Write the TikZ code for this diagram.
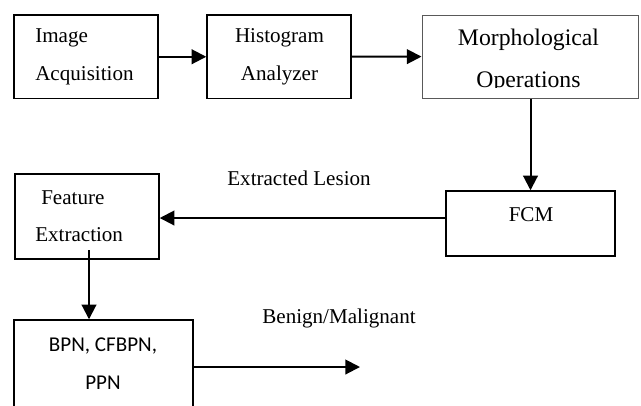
\documentclass[tikz,border=0pt]{standalone}
\usepackage{fontspec}
\setmainfont{Liberation Serif}
\newfontfamily\calibrifont{Carlito}
\usetikzlibrary{arrows.meta}
\tikzstyle{blk}=[rectangle, draw, line width=1.1pt, inner sep=0pt]
\tikzstyle{blkgray}=[rectangle, draw=black!65, line width=0.75pt, inner sep=0pt]
\tikzstyle{txt}=[inner sep=0pt, font=\fontsize{15.8}{28.5}\selectfont]
\tikzstyle{arr}=[line width=1.5pt, -{Triangle[length=11pt,width=11pt]}]

\begin{document}
\begin{tikzpicture}[x=0.75pt, y=-0.75pt]
\useasboundingbox (0,0) rectangle (641,405);
\clip (0,0) rectangle (641,405);

\node[blk, minimum width=108pt, minimum height=62.6pt] (acq) at (86,56.75) {};
\node[txt, align=left, anchor=west] (acqtxt) at (35,57) {Image\\Acquisition};

\node[blk, minimum width=108pt, minimum height=62.6pt] (hist) at (279,56.75) {};
\node[txt, align=center] (histtxt) at (279.5,57) {Histogram\\Analyzer};

\node[blkgray, minimum width=162pt, minimum height=62.25pt] (morph) at (530,56.5) {};
\begin{scope}
\clip (422,15) rectangle (638,87);
\node[txt, align=center, font=\fontsize{17.8}{31.5}\selectfont] (morphtxt) at (528.5,61) {Morphological\\Operations};
\end{scope}

\node[blk, minimum width=126.75pt, minimum height=48.75pt] (fcm) at (530.5,223.5) {};
\node[txt] (fcmtxt) at (531,215) {FCM};

\node[blk, minimum width=108pt, minimum height=63.75pt] (fe) at (87,216.5) {};
\node[txt, align=left, anchor=west, font=\fontsize{15.8}{27.75}\selectfont] (fetxt) at (35,216.5) {\hspace{4.5pt}Feature\\Extraction};

\node[blk, minimum width=134.25pt, minimum height=70.5pt] (bpn) at (103.5,367) {};
\node[txt, align=center, font=\calibrifont\fontsize{15.8}{28.5}\selectfont] (bpntxt) at (103,364) {BPN, CFBPN,\\PPN};

\coordinate (lesion) at (0,218);
\coordinate (fedrop) at (89,250);
\coordinate (out) at (360,367);

\node[txt] (lesiontxt) at (299,178) {Extracted Lesion};
\node[txt] (outtxt) at (339,318) {Benign/Malignant};

% flow
\draw[arr] (acq) -- (hist);
\draw[arr] (hist) -- (morph);
\draw[arr] (morph.south -| fcm.north) -- (fcm.north);
\draw[arr] (fcm.west |- lesion) -- (fe.east |- lesion);
\draw[arr] (fedrop) -- (fedrop |- bpn.north);
\draw[arr] (bpn) -- (out);

\end{tikzpicture}
\end{document}
